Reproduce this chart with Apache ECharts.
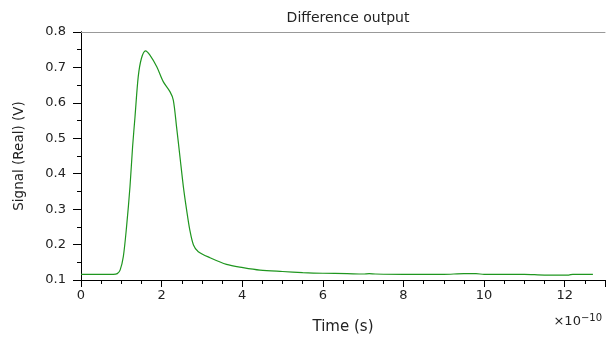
<!DOCTYPE html>
<html>
<head>
<meta charset="utf-8">
<script src="https://cdn.jsdelivr.net/npm/echarts@6/dist/echarts.min.js"></script>
<style>html,body{margin:0;padding:0;background:#fff;}#c{width:608px;height:352px;}</style>
</head>
<body>
<div id="c"></div>
<script>
// Time in units of 1e-10 s
var timeVals = [0, 0.8, 0.9, 0.97, 1.05, 1.13, 1.215, 1.28, 1.34, 1.42, 1.5, 1.6, 1.71, 1.88, 2.04, 2.21, 2.29, 2.37, 2.455, 2.54, 2.62, 2.7, 2.79, 2.91, 3.2, 3.61, 4.02, 4.44, 5.0, 5.5, 6.0, 6.6, 7.0, 7.15, 7.3, 8.0, 9.0, 9.5, 9.8, 10.0, 11.0, 11.5, 12.1, 12.2, 12.7];
var signalVals = [0.116, 0.116, 0.118, 0.128, 0.166, 0.250, 0.363, 0.476, 0.561, 0.674, 0.726, 0.747, 0.735, 0.702, 0.660, 0.631, 0.608, 0.533, 0.448, 0.363, 0.298, 0.241, 0.199, 0.180, 0.163, 0.144, 0.135, 0.128, 0.124, 0.121, 0.119, 0.118, 0.117, 0.118, 0.117, 0.116, 0.116, 0.118, 0.118, 0.116, 0.116, 0.114, 0.114, 0.116, 0.116];
var xTicks = {min: 0, max: 13, interval: 2, minorInterval: 0.5};
var yTicks = {min: 0.1, max: 0.8, interval: 0.1, minorInterval: 0.05};
var titleText = 'Difference output';
var xName = 'Time (s)';
var yName = 'Signal (Real) (V)';

var data = timeVals.map(function (t, i) { return [t, signalVals[i]]; });
var font = 'DejaVu Sans';
var txt = '#222';
var chart = echarts.init(document.getElementById('c'), null, {renderer: 'canvas'});
chart.setOption({
  animation: false,
  backgroundColor: '#fff',
  title: [
    {text: titleText, left: 343, top: 6, textAlign: 'center',
     textStyle: {fontFamily: font, fontSize: 14, fontWeight: 'normal', color: txt}},
    {text: '{a|×10}{b|−10}', right: 1, top: 308,
     textStyle: {fontWeight: 'normal', rich: {a: {fontFamily: font, fontSize: 13, fontWeight: 'normal', color: txt},
                        b: {fontFamily: font, fontSize: 10, fontWeight: 'normal', color: txt, verticalAlign: 'top', padding: [0,0,8,0]}}}}
  ],
  grid: {left: 81, right: 3, top: 32, bottom: 72},
  xAxis: [{
    type: 'value', min: xTicks.min, max: xTicks.max, interval: xTicks.interval,
    name: xName, nameLocation: 'middle', nameGap: 40,
    nameTextStyle: {fontFamily: font, fontSize: 15, color: txt},
    axisLine: {show: true, lineStyle: {color: '#000', width: 1}},
    axisTick: {show: true, length: 7, lineStyle: {color: '#000'}},
    axisLabel: {fontFamily: font, fontSize: 13, color: txt, margin: 9,
      formatter: function (v) { return (v % 2 === 0 && v <= 12) ? String(v) : ''; }},
    splitLine: {show: false}
  }, {
    type: 'value', position: 'top', min: xTicks.min, max: xTicks.max,
    axisLine: {show: true, lineStyle: {color: '#999', width: 1}},
    axisTick: {show: false}, axisLabel: {show: false}, splitLine: {show: false}
  }, {
    type: 'value', position: 'bottom', min: xTicks.min, max: xTicks.max, interval: xTicks.minorInterval,
    axisLine: {show: false},
    axisTick: {show: true, length: 4, lineStyle: {color: '#000'}},
    axisLabel: {show: false}, splitLine: {show: false}
  }],
  yAxis: [{
    type: 'value', min: yTicks.min, max: yTicks.max, interval: yTicks.interval,
    name: yName, nameLocation: 'middle', nameGap: 55, nameRotate: 90,
    nameTextStyle: {fontFamily: font, fontSize: 13.5, color: txt},
    axisLine: {show: true, lineStyle: {color: '#000', width: 1}},
    axisTick: {show: true, length: 8, lineStyle: {color: '#000'}},
    axisLabel: {fontFamily: font, fontSize: 13, color: txt, margin: 15,
      formatter: function (v) { return v.toFixed(1); }},
    splitLine: {show: false}
  }, {
    type: 'value', position: 'right', min: yTicks.min, max: yTicks.max,
    axisLine: {show: true, lineStyle: {color: '#000', width: 1}},
    axisTick: {show: false}, axisLabel: {show: false}, splitLine: {show: false}
  }, {
    type: 'value', position: 'left', min: yTicks.min, max: yTicks.max, interval: yTicks.minorInterval,
    axisLine: {show: false},
    axisTick: {show: true, length: 4, lineStyle: {color: '#000'}},
    axisLabel: {show: false}, splitLine: {show: false}
  }],
  series: [{
    type: 'line', data: data, showSymbol: false, smooth: 0.3,
    lineStyle: {color: '#1f961f', width: 1.2}, silent: true
  }]
});
</script>
</body>
</html>
